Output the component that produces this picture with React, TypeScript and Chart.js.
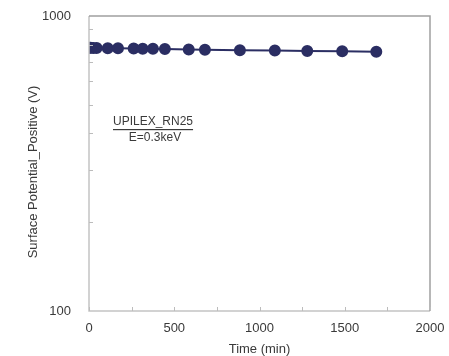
import React, { useEffect, useRef } from "react";
import { Chart, registerables } from "chart.js";

Chart.register(...registerables);

// Elapsed time (min) and measured surface potential (V)
const timeMin = [0, 10, 25, 45, 110, 170, 262, 315, 375, 445, 585, 680, 885, 1090, 1280, 1485, 1685];
const potentialV = [780, 780, 779, 779, 778, 777, 776, 775, 774, 773, 770, 769, 766, 764, 761, 759, 756];
const xTickValues = [0, 500, 1000, 1500, 2000];
const xMinorTicks = [250, 750, 1250, 1750];
const yLabelValues = [100, 1000];
const yMinorTicks = [200, 300, 400, 500, 600, 700, 800, 900];
const xTitle = "Time (min)";
const yTitle = "Surface Potential_Positive (V)";
const sampleName = "UPILEX_RN25";
const energyLabel = "E=0.3keV";

const FONT = "'Liberation Sans', Arial, sans-serif";
const NAVY = "#2b2e63";
const TEXT = "#3a3a3a";

const framePlugin = {
  id: "frame",
  afterDatasetsDraw(chart: any) {
    const { ctx, chartArea: a, scales } = chart;
    ctx.save();
    ctx.lineWidth = 1.5;
    // lighter left/bottom edges, darker top/right edges
    ctx.strokeStyle = "#c4c4c4";
    ctx.beginPath();
    ctx.moveTo(a.left, a.top);
    ctx.lineTo(a.left, a.bottom);
    ctx.lineTo(a.right, a.bottom);
    ctx.stroke();
    ctx.strokeStyle = "#a0a0a0";
    ctx.beginPath();
    ctx.moveTo(a.left, a.top);
    ctx.lineTo(a.right, a.top);
    ctx.lineTo(a.right, a.bottom);
    ctx.stroke();
    ctx.lineWidth = 1;
    ctx.strokeStyle = "#bcbcbc";
    // inward tick marks
    [...xTickValues, ...xMinorTicks].forEach((v) => {
      const x = Math.round(scales.x.getPixelForValue(v)) + 0.5;
      ctx.beginPath();
      ctx.moveTo(x, a.bottom);
      ctx.lineTo(x, a.bottom - 4);
      ctx.stroke();
    });
    yMinorTicks.forEach((v) => {
      const y = Math.round(scales.y.getPixelForValue(v)) + 0.5;
      ctx.beginPath();
      ctx.moveTo(a.left, y);
      ctx.lineTo(a.left + 4, y);
      ctx.stroke();
    });
    // tick labels
    ctx.fillStyle = TEXT;
    ctx.font = `13px ${FONT}`;
    ctx.textBaseline = "middle";
    ctx.textAlign = "right";
    yLabelValues.forEach((v) => {
      ctx.fillText(String(v), a.left - 18, scales.y.getPixelForValue(v));
    });
    ctx.textAlign = "center";
    xTickValues.forEach((v) => {
      ctx.fillText(String(v), scales.x.getPixelForValue(v), a.bottom + 17);
    });
    // axis titles
    ctx.font = `13px ${FONT}`;
    ctx.fillText(xTitle, (a.left + a.right) / 2, a.bottom + 38);
    ctx.save();
    ctx.translate(33, 172);
    ctx.rotate(-Math.PI / 2);
    ctx.fillText(yTitle, 0, 0);
    ctx.restore();
    // sample annotation
    ctx.font = `12px ${FONT}`;
    ctx.textAlign = "left";
    const tx = 113;
    ctx.fillText(sampleName, tx, 122);
    const w = ctx.measureText(sampleName).width;
    ctx.fillRect(tx, 129, w, 1.2);
    ctx.textAlign = "center";
    ctx.fillText(energyLabel, tx + w / 2 + 2, 138);
    ctx.restore();
  },
};

export default function App() {
  const ref = useRef<HTMLCanvasElement>(null);
  useEffect(() => {
    document.body.style.margin = "0";
    const chart = new Chart(ref.current!, {
      type: "scatter",
      data: {
        datasets: [
          {
            data: timeMin.map((t, i) => ({ x: t, y: potentialV[i] })),
            showLine: true,
            borderColor: NAVY,
            backgroundColor: NAVY,
            borderWidth: 2,
            pointRadius: 5,
            pointHoverRadius: 5,
          },
        ],
      },
      options: {
        animation: false,
        responsive: false,
        layout: { padding: { top: 16, right: 19, left: 0, bottom: 0 } },
        plugins: { legend: { display: false }, tooltip: { enabled: false } },
        scales: {
          x: {
            type: "linear",
            min: 0,
            max: 2000,
            afterFit: (s: any) => {
              s.height = 45;
            },
            grid: { display: false, drawTicks: false },
            border: { display: false },
            ticks: { display: false },
          },
          y: {
            type: "logarithmic",
            min: 100,
            max: 1000,
            afterFit: (s: any) => {
              s.width = 89;
            },
            grid: { display: false, drawTicks: false },
            border: { display: false },
            ticks: { display: false },
          },
        },
      },
      plugins: [framePlugin],
    });
    return () => chart.destroy();
  }, []);
  return <canvas ref={ref} width={449} height={356} style={{ display: "block" }} />;
}
